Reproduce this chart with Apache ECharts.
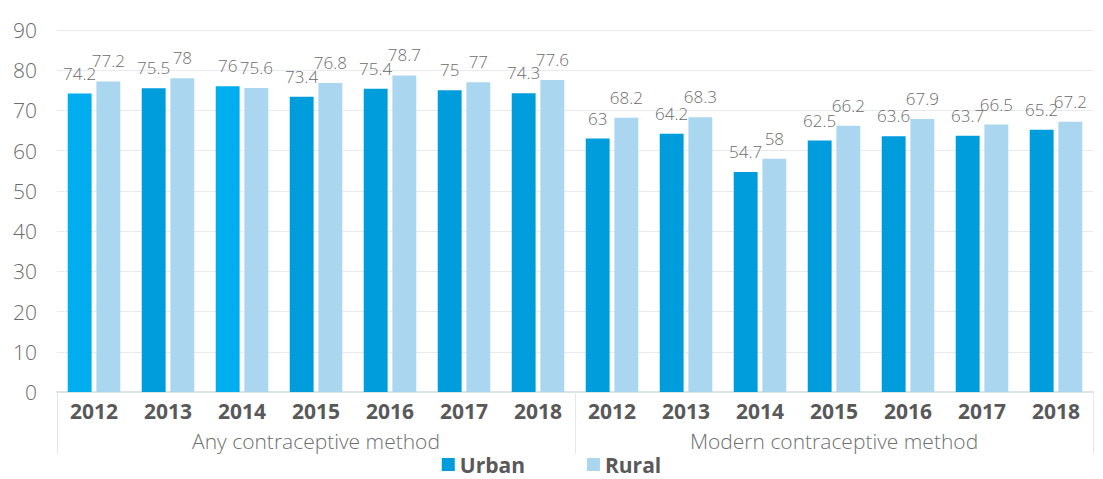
<!DOCTYPE html>
<html>
<head>
<meta charset="utf-8">
<script src="https://cdn.jsdelivr.net/npm/echarts@6/dist/echarts.min.js"></script>
<style>
  html, body { margin: 0; padding: 0; background: #fff; }
  #chart { width: 1103px; height: 479px; }
</style>
</head>
<body>
<div id="chart"></div>
<script>
const chart = echarts.init(document.getElementById('chart'), null, { renderer: 'svg' });

// data
const years = ['2012', '2013', '2014', '2015', '2016', '2017', '2018',
               '2012', '2013', '2014', '2015', '2016', '2017', '2018'];
const groups = ['Any contraceptive method', 'Modern contraceptive method'];
const urban = [74.2, 75.5, 76, 73.4, 75.4, 75, 74.3, 63, 64.2, 54.7, 62.5, 63.6, 63.7, 65.2];
const rural = [77.2, 78, 75.6, 76.8, 78.7, 77, 77.6, 68.2, 68.3, 58, 66.2, 67.9, 66.5, 67.2];
const yTicks = [0, 10, 20, 30, 40, 50, 60, 70, 80, 90];

// the 2012 and 2014 "any method" urban bars are a brighter blue in the original
const brightUrban = [0, 2];

const font = "'Open Sans', 'Noto Sans', sans-serif";
const labelStyle = {
    show: true,
    position: 'top',
    distance: 12,
    fontSize: 17,
    fontWeight: 300,
    color: '#6b6b6b',
    fontFamily: font
};

chart.setOption({
    animation: false,
    grid: { left: 57, right: 10, top: 30, bottom: 87 },
    legend: {
        bottom: -1,
        left: 'center',
        itemWidth: 13,
        itemHeight: 13,
        itemGap: 62,
        icon: 'rect',
        textStyle: { fontSize: 21, fontWeight: 'bold', color: '#595959', fontFamily: font },
        data: ['Urban', 'Rural']
    },
    xAxis: [{
        type: 'category',
        data: years,
        axisLine: { lineStyle: { color: '#dde2ea', width: 2 } },
        axisTick: { show: false },
        axisLabel: { margin: 8, fontSize: 21, fontWeight: 'bold', color: '#595959', fontFamily: font }
    }, {
        type: 'category',
        data: groups,
        position: 'bottom',
        axisLine: { show: false },
        axisTick: { show: true, length: 62, lineStyle: { color: '#e3e7ee' } },
        axisLabel: { margin: 38, fontSize: 21, fontWeight: 300, color: '#6f6f6f', fontFamily: font }
    }],
    yAxis: {
        type: 'value',
        min: yTicks[0],
        max: yTicks[yTicks.length - 1],
        interval: 10,
        axisLine: { show: false },
        axisTick: { show: false },
        splitLine: { lineStyle: { color: '#e8eaf0' } },
        axisLabel: { fontSize: 21, fontWeight: 300, color: '#6b6b6b', margin: 20, fontFamily: font }
    },
    series: [{
        name: 'Urban',
        type: 'bar',
        barGap: '20%',
        barCategoryGap: '29%',
        itemStyle: { color: '#009ddc' },
        label: labelStyle,
        data: urban.map((v, i) => brightUrban.includes(i)
            ? { value: v, itemStyle: { color: '#00aeef' } }
            : v)
    }, {
        name: 'Rural',
        type: 'bar',
        itemStyle: { color: '#abd6f0' },
        label: labelStyle,
        data: rural
    }]
});
</script>
</body>
</html>
